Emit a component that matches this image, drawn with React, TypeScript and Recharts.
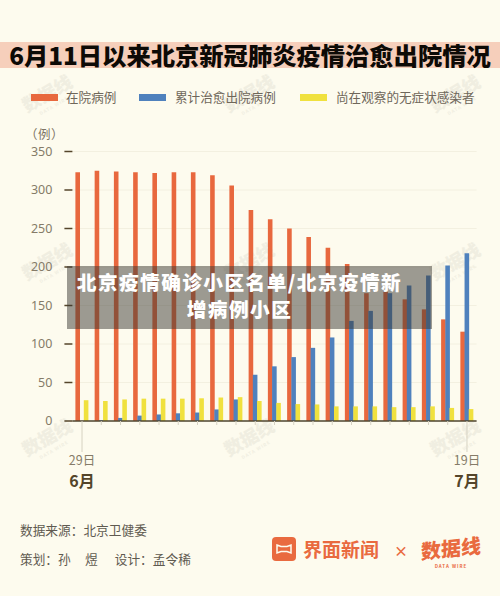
import { BarChart, Bar, XAxis, YAxis, CartesianGrid, Legend } from "recharts";

const dates = ["29日", "30日", "1日", "2日", "3日", "4日", "5日", "6日", "7日", "8日", "9日", "10日", "11日", "12日", "13日", "14日", "15日", "16日", "17日", "18日", "19日"];
const inHospital = [323, 325, 324, 323, 322, 323, 323, 319, 306, 274, 262, 250, 239, 225, 204, 166, 168, 158, 145, 132, 116];
const recovered = [0, 1, 4, 7, 8.5, 10, 11, 15, 28, 60, 71, 83, 95, 108.5, 130, 143, 166, 176, 189, 202, 218];
const observed = [27, 26, 28, 29, 29, 29, 29.5, 30.5, 31, 26, 23.5, 22, 21.5, 19, 19, 19, 18, 18, 19, 17, 15.5];
const yTicks = [0, 50, 100, 150, 200, 250, 300, 350];
const monthLabels: Record<number, string> = { 0: "6月", 20: "7月" };

const legendItems = [
  { label: "在院病例", color: "#e8683e", swatch: 31, text: 66 },
  { label: "累计治愈出院病例", color: "#4f81bd", swatch: 139, text: 175 },
  { label: "尚在观察的无症状感染者", color: "#f0e13e", swatch: 300, text: 336 },
];

const watermarks = [
  [20, 80], [222, 80], [428, 80],
  [20, 248], [222, 248], [428, 248],
  [20, 424], [222, 424], [428, 424],
];

const cjk = '"Noto Sans CJK SC", "Noto Sans", sans-serif';

const data = dates.map((date, i) => ({
  date,
  inHospital: inHospital[i],
  recovered: recovered[i],
  observed: observed[i],
}));

function DateTick({ x, index, payload }: any) {
  const month = monthLabels[index];
  return (
    <g>
      <line x1={x} x2={x} y1={421} y2={month ? 452 : 425} stroke="#d6d2c2" strokeWidth={1} />
      {month && (
        <>
          <text x={x} y={464.5} textAnchor="middle" fontSize={12.5} fill="#857b68" fontFamily={cjk}>
            {payload.value}
          </text>
          <text x={x} y={487} textAnchor="middle" fontSize={16} fontWeight={700} fill="#54452a" fontFamily={cjk}>
            {month}
          </text>
        </>
      )}
    </g>
  );
}

function ChartLegend() {
  return (
    <svg width={500} height={30} style={{ display: "block" }}>
      {legendItems.map((item) => (
        <g key={item.label}>
          <rect x={item.swatch} y={11} width={27} height={7} fill={item.color} />
          <text x={item.text} y={19} fontSize={12.6} fill="#6f675a" fontFamily={cjk}>
            {item.label}
          </text>
        </g>
      ))}
    </svg>
  );
}

function Watermark({ left, top }: { left: number; top: number }) {
  return (
    <div
      style={{
        position: "absolute",
        left,
        top,
        width: 56,
        textAlign: "center",
        transform: "rotate(-30deg)",
        color: "#f0eee1",
        fontFamily: cjk,
        fontWeight: 900,
        fontSize: 18,
        lineHeight: "24px",
        whiteSpace: "nowrap",
      }}
    >
      数据线
      <div style={{ fontSize: 4.5, lineHeight: "6px", letterSpacing: 1, fontWeight: 700 }}>DATA WIRE</div>
    </div>
  );
}

export default function App() {
  return (
    <div style={{ position: "absolute", left: 0, top: 0, width: 500, height: 596, background: "#fdfbee", overflow: "hidden", fontFamily: cjk }}>
      {watermarks.map(([left, top]) => (
        <Watermark key={`${left}-${top}`} left={left} top={top} />
      ))}

      <div
        style={{
          position: "absolute",
          left: 0,
          top: 42,
          width: 500,
          height: 26,
          background: "#f6cfbb",
          color: "#0d0a06",
          fontSize: 24.3,
          fontWeight: 900,
          lineHeight: "26px",
          textAlign: "center",
          whiteSpace: "nowrap",
        }}
      >
        6月11日以来北京新冠肺炎疫情治愈出院情况
      </div>

      <div style={{ position: "absolute", left: 25, top: 126, fontSize: 12.5, lineHeight: "16px", letterSpacing: 0.5, color: "#7d7464", whiteSpace: "pre" }}>（例）</div>

      <div style={{ position: "absolute", left: 0, top: 0 }}>
        <BarChart
          width={500}
          height={596}
          data={data}
          barSize={4.6}
          barGap={-0.4}
          margin={{ top: 121.5, right: 23.4, bottom: 0, left: 0 }}
        >
          <CartesianGrid vertical={false} stroke="#f3f0e0" strokeWidth={1} />
          <XAxis
            dataKey="date"
            interval={0}
            height={175}
            tickSize={0}
            tick={<DateTick />}
            axisLine={{ stroke: "#4f4630", strokeWidth: 1.5 }}
          />
          <YAxis
            width={72.4}
            domain={[0, 350]}
            ticks={yTicks}
            tickSize={8}
            tickMargin={12}
            axisLine={false}
            tickLine={{ stroke: "#54452a", strokeWidth: 1.5 }}
            tick={{ fill: "#857b68", fontSize: 12.5, fontFamily: "'Noto Sans', sans-serif" }}
          />
          <Legend
            verticalAlign="top"
            content={<ChartLegend />}
            wrapperStyle={{ position: "absolute", left: 0, top: 83, width: 500, height: 30 }}
          />
          <Bar dataKey="inHospital" fill="#e8683e" isAnimationActive={false} />
          <Bar dataKey="recovered" fill="#4f81bd" isAnimationActive={false} />
          <Bar dataKey="observed" fill="#f0e13e" isAnimationActive={false} />
        </BarChart>
      </div>

      <div
        style={{
          position: "absolute",
          left: 67,
          top: 266,
          width: 365,
          height: 63,
          background: "rgba(60,58,52,0.5)",
        }}
      />
      <div
        style={{
          position: "absolute",
          left: 59,
          top: 268,
          width: 361,
          color: "#fff",
          fontSize: 19.7,
          fontWeight: 900,
          letterSpacing: 1.4,
          lineHeight: "27px",
          textAlign: "center",
        }}
      >
        北京疫情确诊小区名单/北京疫情新
        <br />
        增病例小区
      </div>

      <div style={{ position: "absolute", left: 20, top: 520, fontSize: 12.7, lineHeight: "20px", color: "#5f5a50", whiteSpace: "pre" }}>数据来源：北京卫健委</div>
      <div style={{ position: "absolute", left: 20, top: 549, fontSize: 12.7, lineHeight: "20px", color: "#5f5a50", whiteSpace: "pre" }}>{"策划：孙     煜      设计：孟令稀"}</div>

      <svg style={{ position: "absolute", left: 272, top: 537 }} width={24} height={24}>
        <rect width={24} height={24} rx={4} fill="#e96a3f" />
        <path d="M5 8 L9 9.5 L15 9.5 L19 8 L19 16 L15 14.5 L9 14.5 L5 16 Z" fill="none" stroke="#fdfbee" strokeWidth={1.5} />
      </svg>
      <div style={{ position: "absolute", left: 303, top: 536, fontSize: 19, fontWeight: 700, lineHeight: "26px", color: "#e96a3f", whiteSpace: "nowrap" }}>界面新闻</div>
      <div style={{ position: "absolute", left: 394, top: 539, fontSize: 14, fontWeight: 700, lineHeight: "22px", color: "#e96a3f" }}>×</div>
      <div style={{ position: "absolute", left: 421, top: 534, width: 60, fontSize: 20, fontWeight: 900, lineHeight: "28px", color: "#e96a3f", whiteSpace: "nowrap", textAlign: "center", transform: "skewY(-6deg)" }}>数据线</div>
      <div style={{ position: "absolute", left: 421, top: 563, width: 60, fontSize: 4.5, fontWeight: 700, lineHeight: "6px", letterSpacing: 1, color: "#e96a3f", textAlign: "center", whiteSpace: "nowrap" }}>DATA WIRE</div>
    </div>
  );
}
